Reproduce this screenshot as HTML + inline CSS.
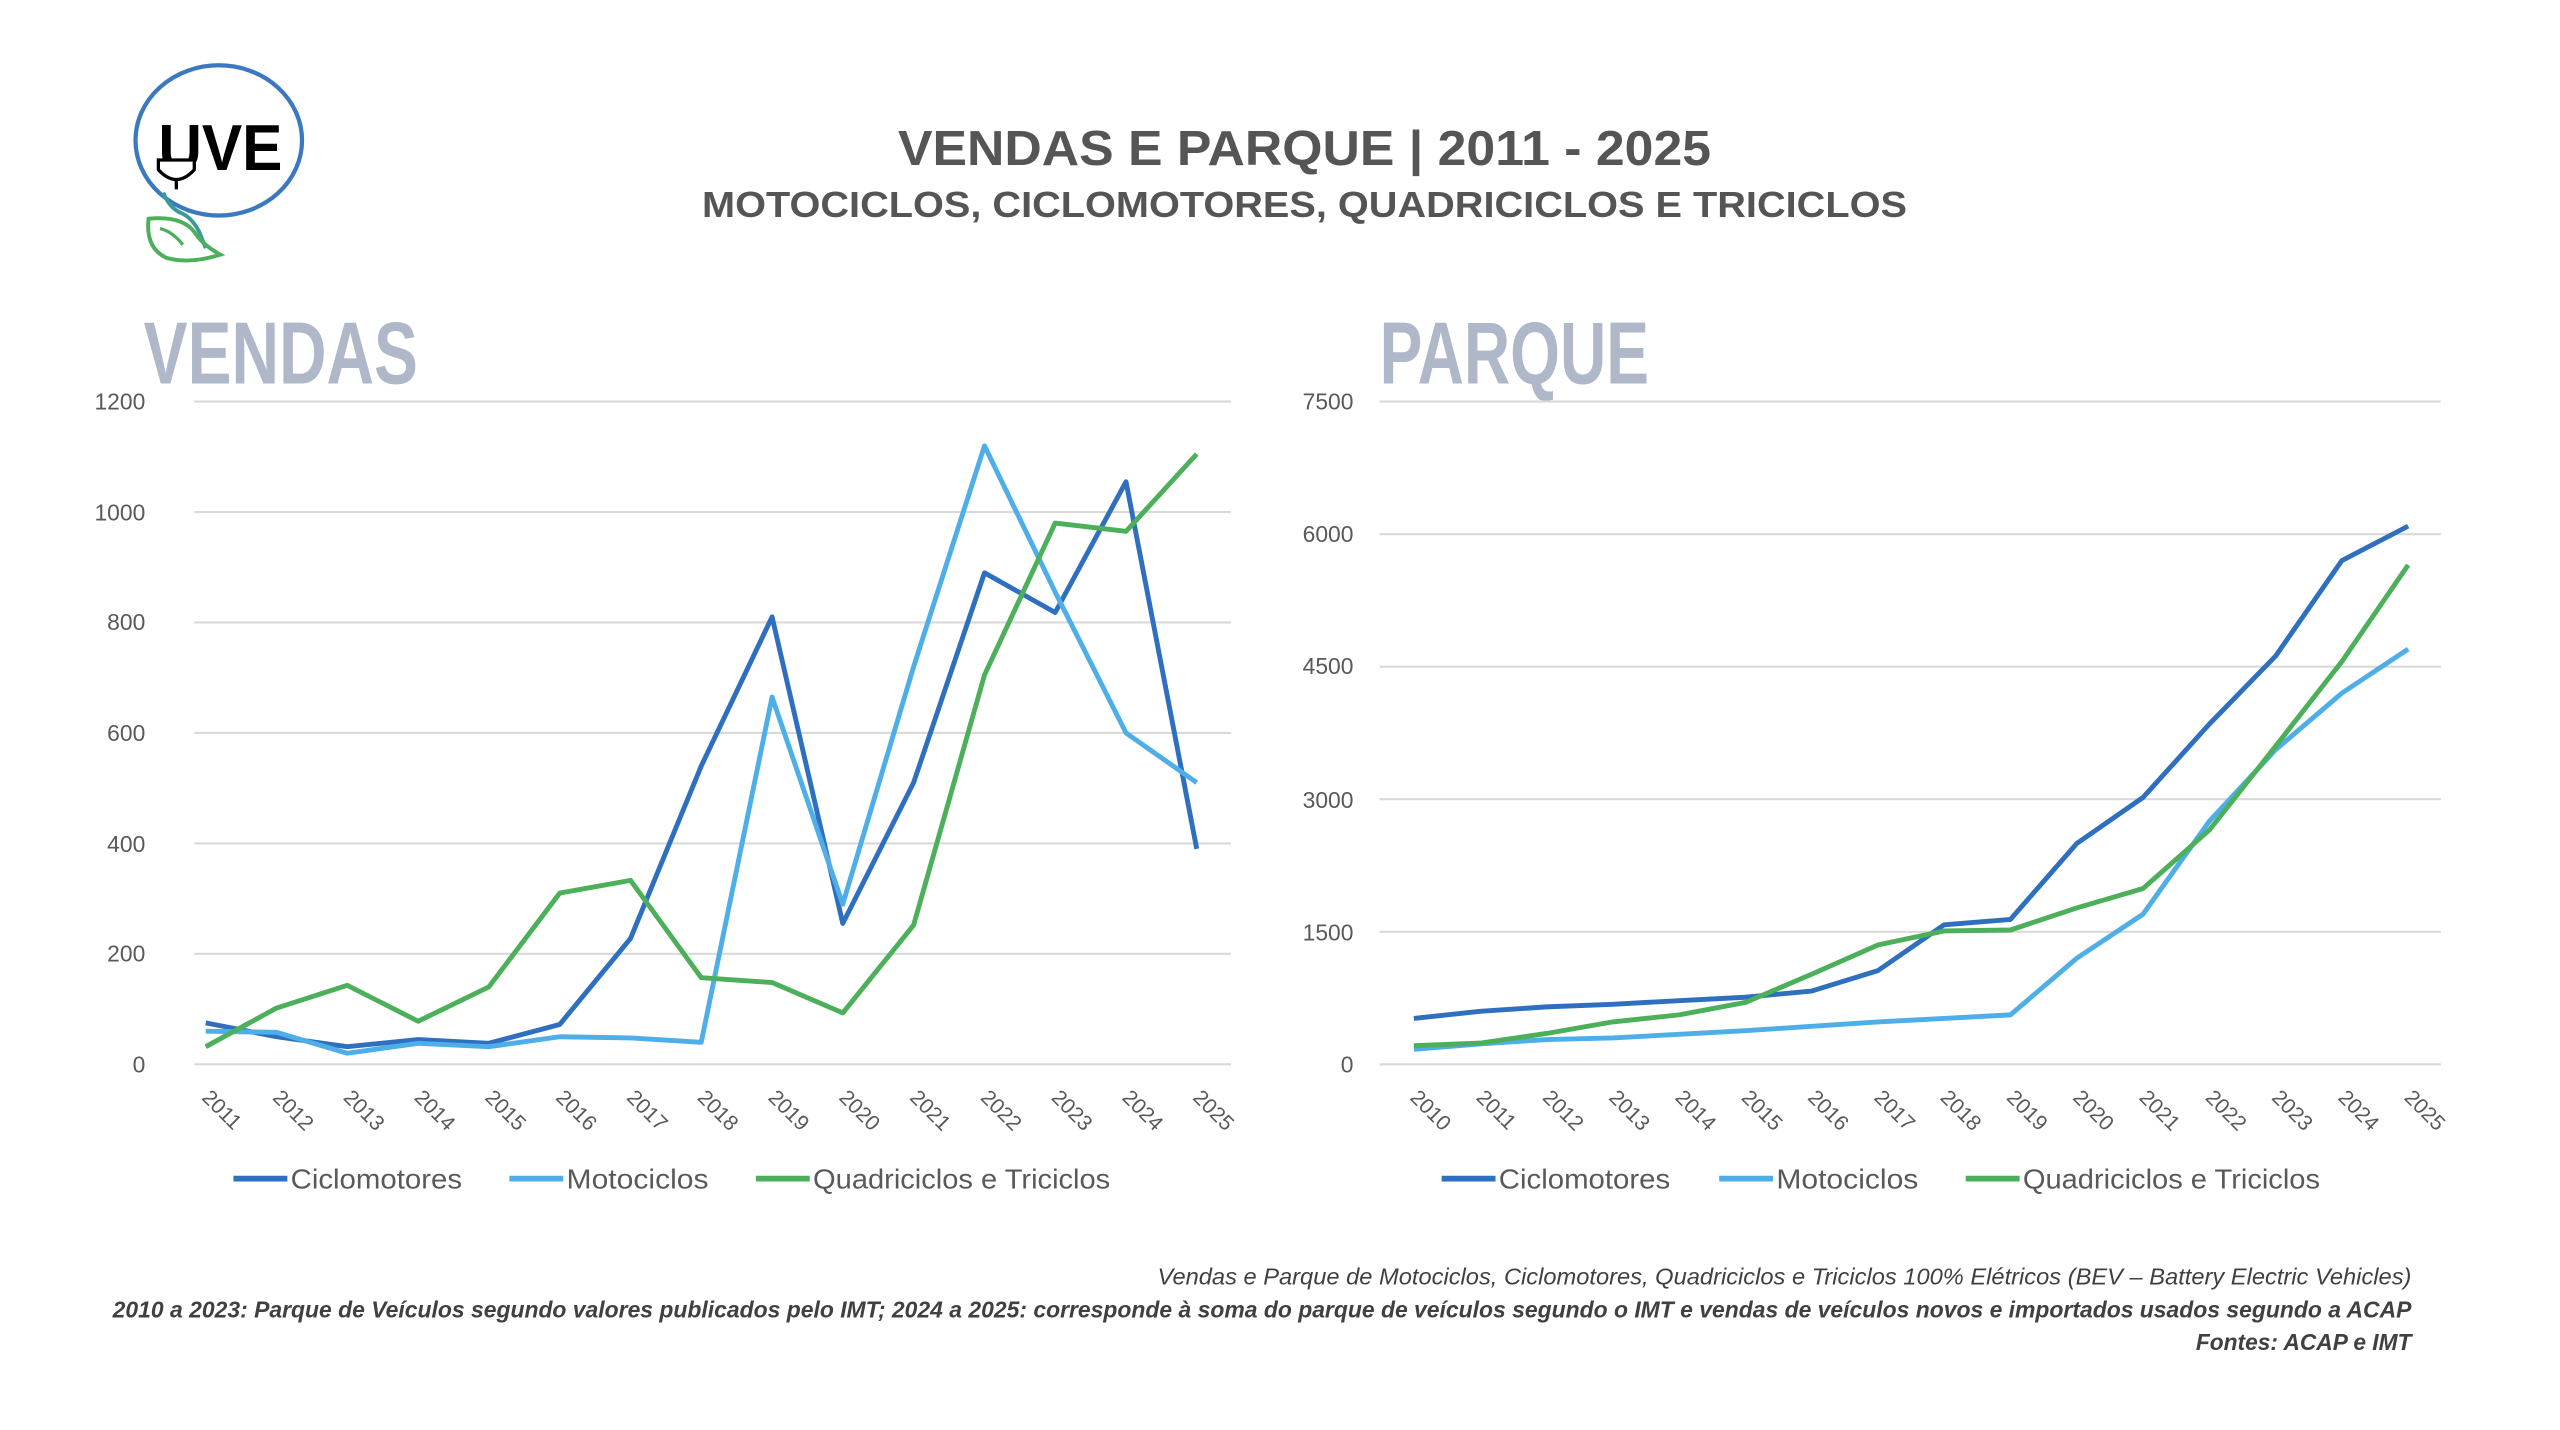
<!DOCTYPE html>
<html><head><meta charset="utf-8"><style>
html,body{margin:0;padding:0;background:#fff;}
svg{display:block;}
text{font-family:"Liberation Sans",sans-serif;}
</style></head><body>
<svg width="2560" height="1430" viewBox="0 0 1568 876" preserveAspectRatio="none" xmlns="http://www.w3.org/2000/svg">
<rect width="1568" height="876" fill="#fff"/>
<!-- logo -->
<ellipse cx="134" cy="86" rx="51" ry="46" fill="none" stroke="#3a78c0" stroke-width="2.6"/>
<path d="M100,118 Q104,128 112,131 Q118,134 122,142 L126,152" fill="none" stroke="#3a9a9a" stroke-width="2.4"/>
<path d="M91,134 Q89,152 102,158 Q116,162 135,156 Q124,150 119,142 Q111,132 91,134 Z" fill="none" stroke="#4caf5a" stroke-width="2.4"/>
<path d="M98,140 Q106,142 112,150" fill="none" stroke="#4caf5a" stroke-width="2"/>
<text x="135" y="104" font-size="40" font-weight="bold" fill="#000" text-anchor="middle" textLength="76" lengthAdjust="spacingAndGlyphs">UVE</text>
<path d="M97,98 h22 v6 q-11,12 -22,0 z" fill="#fff" stroke="#000" stroke-width="2"/>
<line x1="108" y1="110" x2="108" y2="116" stroke="#000" stroke-width="2"/>
<!-- titles -->
<text x="799" y="101" font-size="30" font-weight="bold" fill="#555" text-anchor="middle" textLength="498" lengthAdjust="spacingAndGlyphs">VENDAS E PARQUE | 2011 - 2025</text>
<text x="799" y="133" font-size="22" font-weight="bold" fill="#555" text-anchor="middle" textLength="738" lengthAdjust="spacingAndGlyphs">MOTOCICLOS, CICLOMOTORES, QUADRICICLOS E TRICICLOS</text>
<text x="88" y="235" font-size="54" font-weight="bold" fill="#aeb8c8" textLength="168" lengthAdjust="spacingAndGlyphs">VENDAS</text>
<text x="845" y="235" font-size="54" font-weight="bold" fill="#aeb8c8" textLength="165" lengthAdjust="spacingAndGlyphs">PARQUE</text>
<!-- grid -->
<g stroke="#d9d9d9" stroke-width="1.3">
<line x1="119" x2="754" y1="246" y2="246"/><line x1="119" x2="754" y1="313.7" y2="313.7"/><line x1="119" x2="754" y1="381.3" y2="381.3"/><line x1="119" x2="754" y1="449" y2="449"/><line x1="119" x2="754" y1="516.7" y2="516.7"/><line x1="119" x2="754" y1="584.3" y2="584.3"/><line x1="119" x2="754" y1="652" y2="652"/>
<line x1="845" x2="1495" y1="246" y2="246"/><line x1="845" x2="1495" y1="327.2" y2="327.2"/><line x1="845" x2="1495" y1="408.4" y2="408.4"/><line x1="845" x2="1495" y1="489.6" y2="489.6"/><line x1="845" x2="1495" y1="570.8" y2="570.8"/><line x1="845" x2="1495" y1="652" y2="652"/>
</g>
<g font-size="14" fill="#595959" text-anchor="end">
<text x="89" y="251">1200</text><text x="89" y="319">1000</text><text x="89" y="386">800</text><text x="89" y="454">600</text><text x="89" y="522">400</text><text x="89" y="589">200</text><text x="89" y="657">0</text>
<text x="829" y="251">7500</text><text x="829" y="332">6000</text><text x="829" y="413">4500</text><text x="829" y="495">3000</text><text x="829" y="576">1500</text><text x="829" y="657">0</text>
</g>
<g id="xl" font-size="13" fill="#595959"></g>
<polyline id="lc" fill="none" stroke="#2e6fbf" stroke-width="3" stroke-linejoin="round"/>
<polyline id="lm" fill="none" stroke="#4eaee8" stroke-width="3" stroke-linejoin="round"/>
<polyline id="lq" fill="none" stroke="#4caf5a" stroke-width="3" stroke-linejoin="round"/>
<polyline id="rc" fill="none" stroke="#2e6fbf" stroke-width="3" stroke-linejoin="round"/>
<polyline id="rm" fill="none" stroke="#4eaee8" stroke-width="3" stroke-linejoin="round"/>
<polyline id="rq" fill="none" stroke="#4caf5a" stroke-width="3" stroke-linejoin="round"/>
<!-- legends -->
<g stroke-width="3.5">
<line x1="143" x2="176" y1="722" y2="722" stroke="#2e6fbf"/><line x1="312" x2="345" y1="722" y2="722" stroke="#4eaee8"/><line x1="463" x2="496" y1="722" y2="722" stroke="#4caf5a"/>
<line x1="883" x2="916" y1="722" y2="722" stroke="#2e6fbf"/><line x1="1053" x2="1086" y1="722" y2="722" stroke="#4eaee8"/><line x1="1204" x2="1237" y1="722" y2="722" stroke="#4caf5a"/>
</g>
<g font-size="17" fill="#595959">
<text x="178" y="728" textLength="105" lengthAdjust="spacingAndGlyphs">Ciclomotores</text>
<text x="347" y="728" textLength="87" lengthAdjust="spacingAndGlyphs">Motociclos</text>
<text x="498" y="728" textLength="182" lengthAdjust="spacingAndGlyphs">Quadriciclos e Triciclos</text>
<text x="918" y="728" textLength="105" lengthAdjust="spacingAndGlyphs">Ciclomotores</text>
<text x="1088" y="728" textLength="87" lengthAdjust="spacingAndGlyphs">Motociclos</text>
<text x="1239" y="728" textLength="182" lengthAdjust="spacingAndGlyphs">Quadriciclos e Triciclos</text>
</g>
<g font-size="14" fill="#404040" font-style="italic" text-anchor="end">
<text x="1477" y="787" textLength="768" lengthAdjust="spacingAndGlyphs">Vendas e Parque de Motociclos, Ciclomotores, Quadriciclos e Triciclos 100% Elétricos (BEV – Battery Electric Vehicles)</text>
<text x="1477" y="807" font-weight="bold" textLength="1408" lengthAdjust="spacingAndGlyphs">2010 a 2023: Parque de Veículos segundo valores publicados pelo IMT; 2024 a 2025: corresponde à soma do parque de veículos segundo o IMT e vendas de veículos novos e importados usados segundo a ACAP</text>
<text x="1477" y="827" font-weight="bold" textLength="132" lengthAdjust="spacingAndGlyphs">Fontes: ACAP e IMT</text>
</g>
<script>
function pts(x0,dx,y0,ymax,vmax,vals){return vals.map((v,i)=>(x0+i*dx).toFixed(1)+','+(y0-(y0-ymax)*v/vmax).toFixed(1)).join(' ');}
var L=[126,43.36,652,246,1200],R=[866,40.6,652,246,7500];
document.getElementById('lc').setAttribute('points',pts(...L,[75,50,32,45,38,72,228,540,810,255,510,890,818,1055,390]));
document.getElementById('lm').setAttribute('points',pts(...L,[60,58,20,38,32,50,48,40,665,290,720,1120,855,600,510]));
document.getElementById('lq').setAttribute('points',pts(...L,[32,102,143,78,140,310,333,157,148,93,252,705,980,965,1105]));
document.getElementById('rc').setAttribute('points',pts(...R,[520,600,650,680,720,760,830,1060,1580,1640,2500,3020,3850,4620,5700,6090]));
document.getElementById('rm').setAttribute('points',pts(...R,[170,230,280,300,340,380,430,480,520,560,1200,1700,2750,3560,4200,4700]));
document.getElementById('rq').setAttribute('points',pts(...R,[210,240,350,480,560,700,1020,1350,1510,1520,1770,1990,2650,3600,4560,5650]));
var g=document.getElementById('xl'),ns='http://www.w3.org/2000/svg';
function lab(x,t){var e=document.createElementNS(ns,'text');var xx=x-3;e.setAttribute('x',xx);e.setAttribute('y',673);e.setAttribute('transform','rotate(45 '+xx+' 673)');e.textContent=t;g.appendChild(e);}
for(var i=0;i<15;i++)lab(126+i*43.36,2011+i);
for(var i=0;i<16;i++)lab(866+i*40.6,2010+i);
</script>
</svg>
</body></html>
